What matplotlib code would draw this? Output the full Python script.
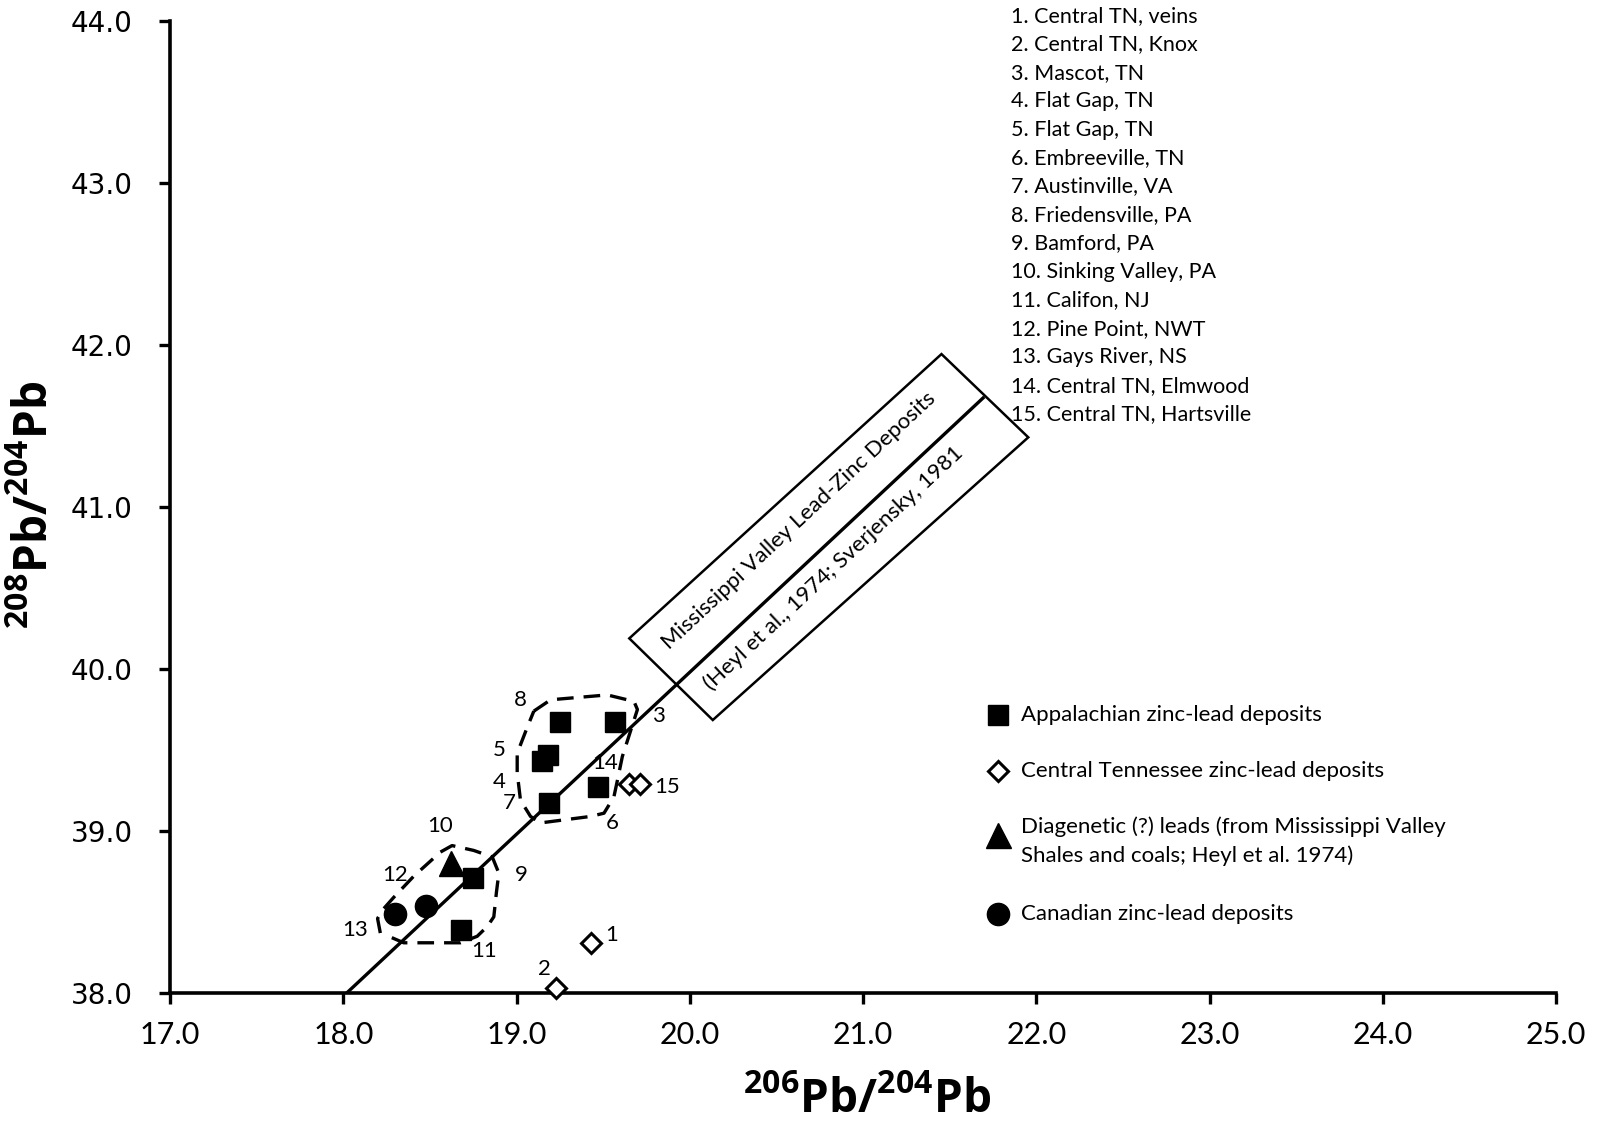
import matplotlib
matplotlib.use("Agg")
import numpy as np
import matplotlib.pyplot as plt
from matplotlib.patches import Polygon

plt.rcParams['font.family'] = ['Lato', 'DejaVu Sans']
plt.rcParams['mathtext.fontset'] = 'custom'
plt.rcParams['mathtext.rm'] = 'Open Sans'
plt.rcParams['mathtext.bf'] = 'Open Sans:bold'

# ---- data ----
ids = [1, 2, 3, 4, 5, 6, 7, 8, 9, 10, 11, 12, 13, 14, 15]
pb206 = [19.43, 19.23, 19.57, 19.15, 19.18, 19.47, 19.19, 19.25, 18.75, 18.62, 18.68, 18.48, 18.30, 19.65, 19.71]
pb208 = [38.31, 38.03, 39.67, 39.43, 39.47, 39.27, 39.17, 39.67, 38.71, 38.80, 38.39, 38.54, 38.49, 39.29, 39.29]
group = ['CT', 'CT', 'AP', 'AP', 'AP', 'AP', 'AP', 'AP', 'AP', 'DG', 'AP', 'CA', 'CA', 'CT', 'CT']

label_x = [19.55, 19.16, 19.82, 18.90, 18.90, 19.55, 18.96, 19.02, 19.03, 18.56, 18.81, 18.30, 18.07, 19.51, 19.87]
label_y = [38.36, 38.15, 39.71, 39.30, 39.50, 39.05, 39.17, 39.81, 38.73, 39.03, 38.26, 38.73, 38.39, 39.42, 39.27]

locations = ["Central TN, veins", "Central TN, Knox", "Mascot, TN", "Flat Gap, TN", "Flat Gap, TN",
             "Embreeville, TN", "Austinville, VA", "Friedensville, PA", "Bamford, PA",
             "Sinking Valley, PA", "Califon, NJ", "Pine Point, NWT", "Gays River, NS",
             "Central TN, Elmwood", "Central TN, Hartsville"]

trend_x = [18.02, 21.70]
trend_y = [38.00, 41.68]

box_x = [19.651, 21.453, 21.954, 20.133]
box_y = [40.189, 41.944, 41.430, 39.685]

upper_x = [19.10, 19.197, 19.524, 19.678, 19.698, 19.659, 19.611, 19.582, 19.562, 19.505, 19.428, 19.139, 19.081, 19.023, 19.004, 19.004, 19.062, 19.10]
upper_y = [39.74, 39.81, 39.84, 39.80, 39.75, 39.62, 39.46, 39.31, 39.21, 39.11, 39.09, 39.05, 39.09, 39.19, 39.36, 39.48, 39.64, 39.74]
lower_x = [18.214, 18.198, 18.233, 18.291, 18.406, 18.561, 18.628, 18.753, 18.86, 18.898, 18.884, 18.869, 18.831, 18.773, 18.676, 18.349, 18.262]
lower_y = [38.37, 38.46, 38.52, 38.59, 38.72, 38.87, 38.91, 38.88, 38.84, 38.74, 38.62, 38.47, 38.41, 38.35, 38.31, 38.31, 38.35]

legend_keys = ['AP', 'CT', 'DG', 'CA']
legend_labels = ["Appalachian zinc-lead deposits", "Central Tennessee zinc-lead deposits",
                 "Diagenetic (?) leads (from Mississippi Valley\nShales and coals; Heyl et al. 1974)",
                 "Canadian zinc-lead deposits"]

xticks = [17.0, 18.0, 19.0, 20.0, 21.0, 22.0, 23.0, 24.0, 25.0]
yticks = [38.0, 39.0, 40.0, 41.0, 42.0, 43.0, 44.0]

styles = {
    'AP': dict(marker='s', ms=15, mfc='black', mec='black', mew=1),
    'CT': dict(marker='D', ms=10, mfc='white', mec='black', mew=2.2),
    'DG': dict(marker='^', ms=18, mfc='black', mec='black', mew=1),
    'CA': dict(marker='o', ms=16, mfc='black', mec='black', mew=1),
}

W, H = 1617, 1126
fig = plt.figure(figsize=(W / 100, H / 100), dpi=100)
ax = fig.add_axes([170 / W, 1 - 993 / H, (1556 - 170) / W, (993 - 21) / H])
ax.set_xlim(17, 25)
ax.set_ylim(38, 44)

# trend line
ax.plot(trend_x, trend_y, color='black', lw=2.4, zorder=3, solid_capstyle='butt')

# screen angle of trend line
p0, p1 = ax.transData.transform([(trend_x[0], trend_y[0]), (trend_x[1], trend_y[1])])
ang = np.degrees(np.arctan2(p1[1] - p0[1], p1[0] - p0[0]))

# rotated box with texts
ax.add_patch(Polygon(list(zip(box_x, box_y)), closed=True, fill=False, ec='black', lw=1.8, zorder=3))
ax.text(20.628, 40.915, "Mississippi Valley Lead-Zinc Deposits", rotation=ang,
        rotation_mode='anchor', ha='center', va='center', fontsize=16, zorder=4)
ax.text(20.827, 40.622, "(Heyl et al., 1974; Sverjensky, 1981", rotation=ang,
        rotation_mode='anchor', ha='center', va='center', fontsize=16, zorder=4)

# dashed enclosures
ax.plot(upper_x, upper_y, color='black', lw=2.4, ls=(0, (5, 3)), zorder=3)
ax.plot(lower_x, lower_y, color='black', lw=2.4, ls=(0, (5, 3)), zorder=3)

# points and their numbers
for i, g in enumerate(group):
    ax.plot(pb206[i], pb208[i], ls='none', zorder=5, clip_on=False, **styles[g])
    ax.text(label_x[i], label_y[i], str(ids[i]), ha='center', va='center', fontsize=16, zorder=6)

# list of localities
for i, name in enumerate(locations):
    ax.text(0.6065, 1.0055 - i * 0.02929, f"{ids[i]}. {name}", transform=ax.transAxes,
            ha='left', va='center', fontsize=15.5)

# manual legend
leg_rows = [39.718, 39.368, 39.024, 38.489]
leg_marker_y = [39.718, 39.368, 38.973, 38.489]
for k, lab, ty, my in zip(legend_keys, legend_labels, leg_rows, leg_marker_y):
    ax.plot([21.78], [my], ls='none', zorder=5, **styles[k])
    for j, line in enumerate(lab.split('\n')):
        ax.text(21.91, ty - j * 0.178, line, ha='left', va='center', fontsize=16)

# axes styling
for s in ['top', 'right']:
    ax.spines[s].set_visible(False)
for s in ['left', 'bottom']:
    ax.spines[s].set_linewidth(2.6)
ax.set_xticks(xticks)
ax.set_yticks(yticks)
ax.set_xticklabels([f"{v:.1f}" for v in xticks], fontsize=22)
ax.set_yticklabels([f"{v:.1f}" for v in yticks], fontsize=20, family='DejaVu Sans')
ax.tick_params(axis='both', direction='out', length=8, width=2.4)
ax.tick_params(axis='y', pad=19)
ax.tick_params(axis='x', pad=12)

ax.set_xlabel(r"$\mathbf{^{206}Pb/^{204}Pb}$", fontsize=33)
ax.xaxis.set_label_coords(0.503, -0.083)
ax.set_ylabel(r"$\mathbf{^{208}Pb/^{204}Pb}$", fontsize=33)
ax.yaxis.set_label_coords(-0.083, 0.502)

fig.savefig("out.png", dpi=100)
